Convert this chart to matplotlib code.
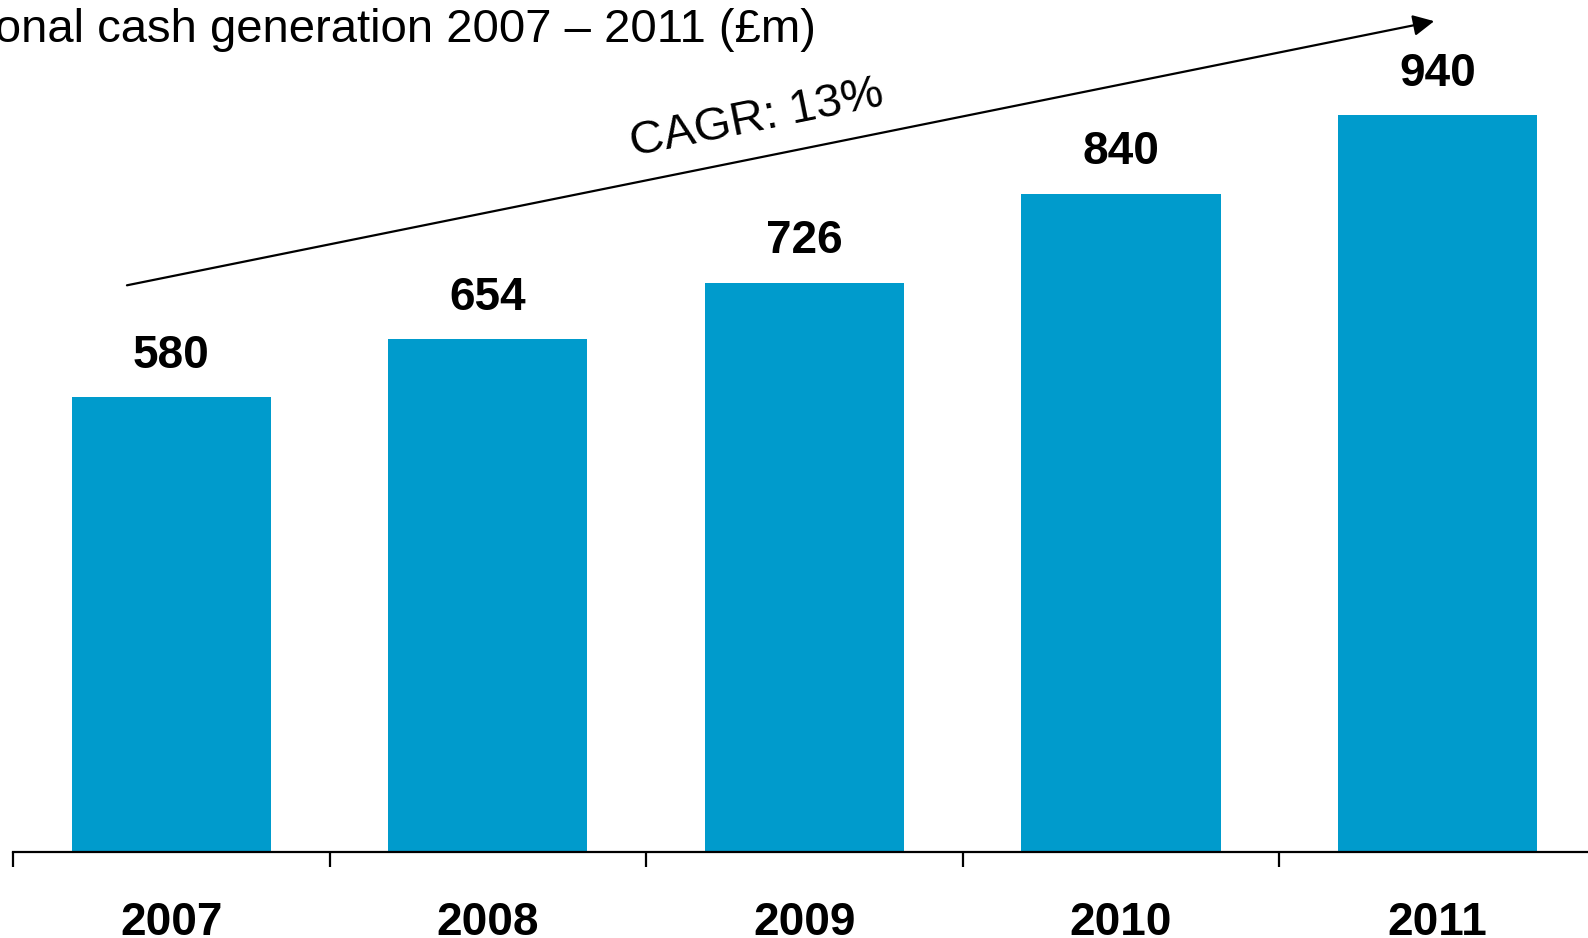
import matplotlib.pyplot as plt
import numpy as np

years = ['2007', '2008', '2009', '2010', '2011']
cash = [580, 654, 726, 840, 940]
title = 'Operational cash generation 2007 \u2013 2011 (\u00a3m)'
cagr_label = 'CAGR: 13%'

plt.rcParams['font.family'] = ['Liberation Sans', 'DejaVu Sans']

fig = plt.figure(figsize=(15.88, 9.38), dpi=100)
ax = fig.add_axes([13 / 1588, 86 / 938, 1 - 13 / 1588, 852 / 938])

x = np.arange(len(years))
ax.bar(x, cash, width=0.63, color='#009BCC')
for xi, v in zip(x, cash):
    ax.text(xi, v + 53, str(v), ha='center', va='center',
            fontsize=33, fontweight='bold')

ax.set_xlim(-0.5, 4.476)
ax.set_ylim(0, 1087)

for s in ['top', 'right', 'left']:
    ax.spines[s].set_visible(False)
ax.spines['bottom'].set_linewidth(1.6)
ax.set_yticks([])

ax.set_xticks(x)
ax.set_xticklabels(years, fontsize=33, fontweight='bold')
ax.tick_params(axis='x', which='major', length=0, pad=35)
ax.set_xticks(np.arange(len(years)) - 0.5, minor=True)
ax.tick_params(axis='x', which='minor', length=11, width=1.6)

# growth arrow
ax.annotate('', xy=(3.99, 1060), xytext=(-0.14, 723),
            arrowprops=dict(arrowstyle='-|>', color='black', lw=1.6,
                            mutation_scale=32, shrinkA=0, shrinkB=0))
ax.text(1.85, 935, cagr_label, rotation=11.4, ha='center', va='center',
        fontsize=34)

fig.text(816 / 1588, 1 - 42 / 938, title, ha='right', va='baseline',
         fontsize=34)

fig.savefig('out.png', dpi=100)
